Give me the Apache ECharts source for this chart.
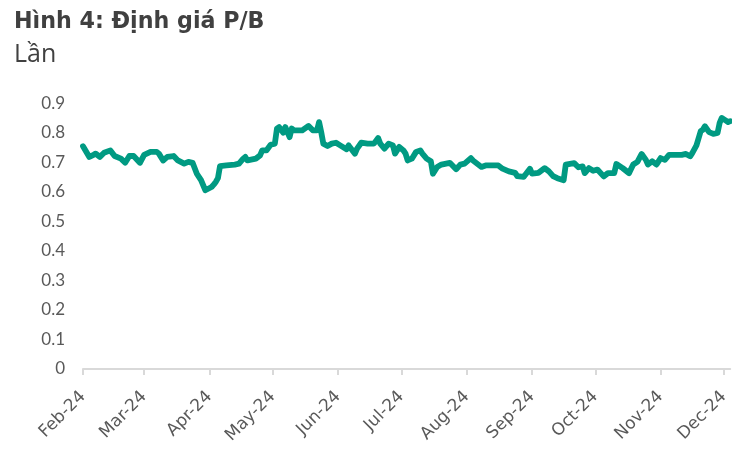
<!DOCTYPE html>
<html>
<head>
<meta charset="utf-8">
<script src="https://cdn.jsdelivr.net/npm/echarts@6/dist/echarts.min.js"></script>
<style>
html,body{margin:0;padding:0;background:#fff;}
#chart{width:732px;height:452px;}
</style>
</head>
<body>
<div id="chart"></div>
<script>
var titleText = 'Hình 4: Định giá P/B';
var unitText = 'Lần';
var monthNames = ['Jan','Feb','Mar','Apr','May','Jun','Jul','Aug','Sep','Oct','Nov','Dec'];
var axisStart = '2024-02-01';
var axisEnd = '2024-12-04';
var dates = [
'2024-02-01','2024-02-04','2024-02-06','2024-02-07','2024-02-09','2024-02-11','2024-02-14','2024-02-16','2024-02-19','2024-02-21',
'2024-02-23','2024-02-25','2024-02-28','2024-03-01','2024-03-04','2024-03-07','2024-03-08','2024-03-10','2024-03-12','2024-03-15',
'2024-03-17','2024-03-20','2024-03-22','2024-03-24','2024-03-26','2024-03-28','2024-03-30','2024-04-02','2024-04-03','2024-04-04',
'2024-04-05','2024-04-06','2024-04-09','2024-04-13','2024-04-15','2024-04-17','2024-04-18','2024-04-19','2024-04-23','2024-04-25',
'2024-04-26','2024-04-28','2024-04-30','2024-05-02','2024-05-03','2024-05-04','2024-05-06','2024-05-07','2024-05-09','2024-05-10',
'2024-05-11','2024-05-15','2024-05-18','2024-05-20','2024-05-22','2024-05-23','2024-05-24','2024-05-25','2024-05-27','2024-05-29',
'2024-05-31','2024-06-02','2024-06-05','2024-06-06','2024-06-09','2024-06-10','2024-06-12','2024-06-15','2024-06-18','2024-06-20',
'2024-06-21','2024-06-23','2024-06-25','2024-06-27','2024-06-28','2024-06-30','2024-07-02','2024-07-03','2024-07-04','2024-07-06',
'2024-07-08','2024-07-10','2024-07-11','2024-07-13','2024-07-15','2024-07-16','2024-07-18','2024-07-20','2024-07-24','2024-07-27',
'2024-07-29','2024-07-31','2024-08-03','2024-08-04','2024-08-08','2024-08-10','2024-08-13','2024-08-16','2024-08-18','2024-08-21',
'2024-08-24','2024-08-25','2024-08-28','2024-08-31','2024-09-01','2024-09-04','2024-09-07','2024-09-09','2024-09-11','2024-09-13',
'2024-09-16','2024-09-17','2024-09-21','2024-09-23','2024-09-25','2024-09-26','2024-09-28','2024-09-30','2024-10-02','2024-10-05',
'2024-10-07','2024-10-10','2024-10-11','2024-10-14','2024-10-17','2024-10-19','2024-10-21','2024-10-23','2024-10-25','2024-10-26',
'2024-10-28','2024-10-30','2024-11-01','2024-11-03','2024-11-05','2024-11-08','2024-11-11','2024-11-13','2024-11-15','2024-11-16',
'2024-11-18','2024-11-20','2024-11-21','2024-11-22','2024-11-24','2024-11-26','2024-11-28','2024-11-29','2024-11-30','2024-12-02',
'2024-12-03','2024-12-04'
];
var pbValues = [
0.755,0.719,0.726,0.730,0.719,0.733,0.741,0.722,0.713,0.699,
0.722,0.722,0.699,0.726,0.736,0.736,0.730,0.707,0.719,0.722,
0.707,0.696,0.702,0.699,0.662,0.640,0.606,0.617,0.625,0.634,
0.647,0.688,0.690,0.693,0.696,0.713,0.719,0.707,0.713,0.724,
0.741,0.741,0.760,0.764,0.815,0.820,0.801,0.820,0.786,0.815,
0.809,0.809,0.824,0.809,0.809,0.837,0.803,0.764,0.756,0.764,
0.767,0.758,0.745,0.758,0.730,0.747,0.767,0.764,0.764,0.783,
0.764,0.747,0.764,0.758,0.730,0.753,0.741,0.730,0.707,0.713,
0.736,0.741,0.730,0.713,0.704,0.662,0.685,0.693,0.699,0.677,
0.693,0.696,0.715,0.707,0.685,0.690,0.690,0.690,0.679,0.670,
0.665,0.654,0.651,0.679,0.662,0.665,0.681,0.670,0.654,0.647,
0.640,0.693,0.698,0.684,0.687,0.664,0.681,0.672,0.676,0.653,
0.664,0.664,0.695,0.681,0.664,0.693,0.702,0.729,0.709,0.693,
0.704,0.693,0.715,0.709,0.726,0.726,0.726,0.729,0.721,0.732,
0.758,0.806,0.811,0.823,0.803,0.797,0.800,0.834,0.851,0.842,
0.837,0.840
];
var yMin = 0, yMax = 0.9, yStep = 0.1;

var seriesData = dates.map(function(d, i){ return [d, pbValues[i]]; });
var DAY = 86400000;
var chart = echarts.init(document.getElementById('chart'), null, {renderer:'canvas'});
chart.setOption({
  animation: false,
  backgroundColor: '#ffffff',
  title: [
    {text: titleText, left: 14, top: 11, padding: 0, textStyle:{fontFamily:'DejaVu Sans', fontWeight:'bold', fontSize:22.2, color:'#404040'}},
    {text: unitText, left: 14, top: 42, padding: 0, textStyle:{fontFamily:'Open Sans', fontWeight:'normal', fontSize:25, color:'#404040'}}
  ],
  grid: {left: 83, right: 0, top: 103.5, bottom: 83, containLabel: false},
  xAxis: {
    type: 'time',
    min: axisStart,
    max: axisEnd,
    minInterval: 28 * DAY,
    maxInterval: 31 * DAY,
    splitLine: {show: false},
    axisLine: {show: true, lineStyle: {color: '#d9d9d9', width: 2}},
    axisTick: {show: true, length: 6, lineStyle: {color: '#d9d9d9', width: 2}},
    axisLabel: {
      rotate: 45, margin: 25, fontSize: 17, fontFamily: 'DejaVu Sans', color: '#595959',
      showMaxLabel: false,
      formatter: function(v){ var d = new Date(v); return monthNames[d.getMonth()] + '-' + String(d.getFullYear()).slice(2); }
    }
  },
  yAxis: {
    type: 'value',
    min: yMin, max: yMax, interval: yStep,
    axisLine: {show: false},
    axisTick: {show: false},
    splitLine: {show: false},
    axisLabel: {margin: 18, fontSize: 17, fontFamily: 'Lato', color: '#595959',
      formatter: function(v){ return v === 0 ? '0' : v.toFixed(1); }}
  },
  series: [{
    type: 'line',
    data: seriesData,
    showSymbol: false,
    symbol: 'none',
    lineStyle: {width: 5.8, color: '#009a82', cap: 'round', join: 'round'},
    itemStyle: {color: '#009a82'}
  }]
});
</script>
</body>
</html>
